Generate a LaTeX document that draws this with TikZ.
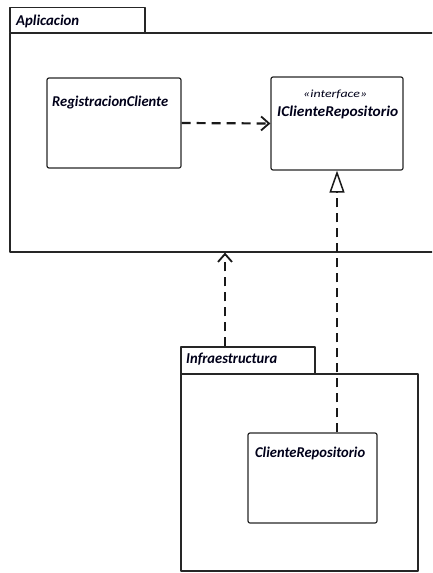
\documentclass[tikz,border=0pt]{standalone}
\usepackage{fontspec}
\usepackage{graphicx}
\setmainfont{Carlito}
\usetikzlibrary{arrows.meta}
% bold italic label fitted to a given width and ascender height
\newcommand\fitname[2]{\resizebox{#1}{10.5pt}{\bfseries\itshape #2}}
\begin{document}
\begin{tikzpicture}[x=1pt,y=-1pt,
  pen/.style={line width=1.2pt, draw=black!85, line join=round, line cap=round},
  classbox/.style={pen, rectangle, rounded corners=2pt, inner sep=0pt},
  frame/.style={pen, rectangle, inner sep=0pt},
  tab/.style={pen, rectangle, inner sep=0pt, minimum height=25pt},
  nm/.style={font=\fontsize{12}{14}\selectfont, inner sep=0pt, anchor=base west, text=black!90!blue},
  dep/.style={line width=2.2pt, dash pattern=on 9pt off 6pt, draw=black!90,
    -{Straight Barb[length=8pt,width=14pt,line width=1.8pt]}},
  real/.style={line width=2.2pt, dash pattern=on 9pt off 6pt, draw=black!90,
    -{Triangle[open,length=22pt,width=15pt,line width=1.5pt]}}
]
\useasboundingbox (0,0) rectangle (432,573);
\clip (0,0) rectangle (432,573);

% package Aplicacion
\node[frame, minimum width=440pt, minimum height=219pt] (apl) at (230,142.5) {};
\node[tab, minimum width=135pt] (atab) at (77.5,20) {};
\node[nm] (aname) at (16,25) {\fitname{63pt}{Aplicacion}};

% package Infraestructura
\node[frame, minimum width=237pt, minimum height=197pt] (inf) at (299.5,472.5) {};
\node[tab, minimum width=134pt, minimum height=27pt] (itab) at (248,360.5) {};
\node[nm] (iname) at (186,363) {\fitname{91pt}{Infraestructura}};

% classes
\node[classbox, minimum width=134pt, minimum height=90pt] (reg) at (114,123) {};
\node[nm] (regname) at (52,106) {\fitname{116pt}{RegistracionCliente}};

\node[classbox, minimum width=132pt, minimum height=93pt] (irep) at (337,123.5) {};
\node[nm] (irepst) at (303,97) {\resizebox{64pt}{7.5pt}{\itshape «interface»}};
\node[nm] (irepname) at (277,116) {\fitname{121pt}{IClienteRepositorio}};

\node[classbox, minimum width=129pt, minimum height=90pt] (crep) at (312.5,478) {};
\node[nm] (crepname) at (255,457) {\fitname{110pt}{ClienteRepositorio}};

% connectors
\coordinate (dx) at (225,0);
\draw[dep] (reg.east) -- (irep.west);
\draw[real] (crep.north -| irep.south) -- (irep.south);
\draw[dep] (itab.north -| dx) -- (apl.south -| dx);
\end{tikzpicture}
\end{document}
